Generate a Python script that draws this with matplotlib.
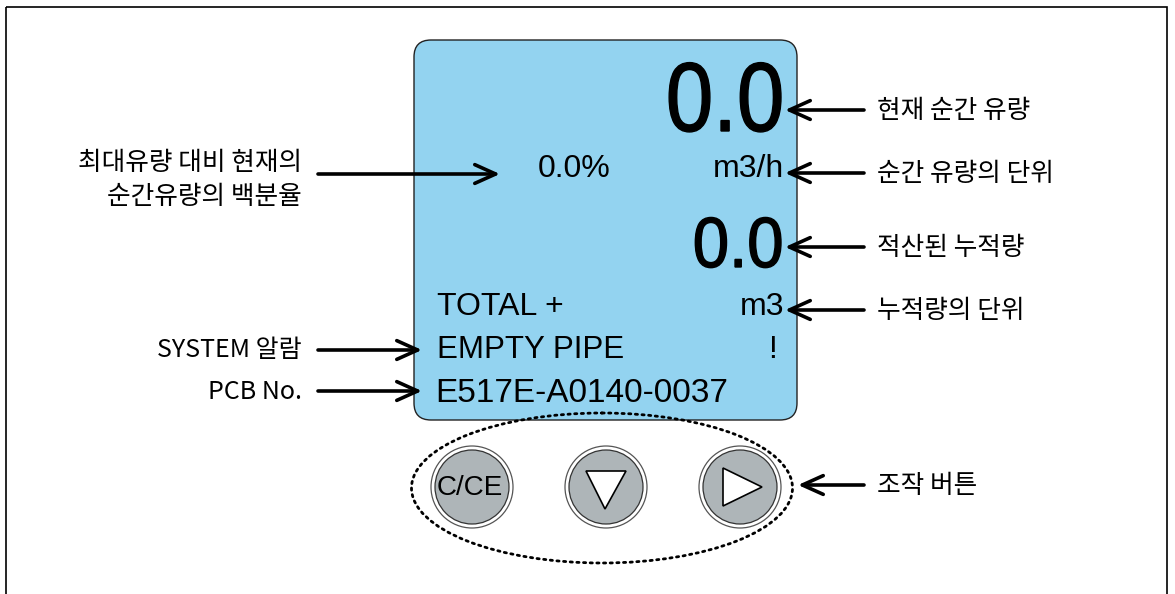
import matplotlib
matplotlib.use('Agg')
import matplotlib.pyplot as plt
from matplotlib.patches import FancyBboxPatch, Circle, Ellipse, Polygon, Rectangle, PathPatch
from matplotlib.textpath import TextPath
from matplotlib.font_manager import FontProperties
from matplotlib.transforms import Affine2D

plt.rcParams['font.family'] = ['Noto Sans CJK KR', 'DejaVu Sans']

# --- data: texts shown on the display and callout labels ---
flow_now = "0.0"
flow_unit = "m3/h"
flow_pct = "0.0%"
total_val = "0.0"
total_mode = "TOTAL +"
total_unit = "m3"
alarm_msg = "EMPTY PIPE"
alarm_flag = "!"
pcb_no = "E517E-A0140-0037"
button_names = ["C/CE", "down", "right"]

right_labels = ["현재 순간 유량", "순간 유량의 단위", "적산된 누적량", "누적량의 단위", "조작 버튼"]
left_labels = ["최대유량 대비 현재의\n순간유량의 백분율", "SYSTEM 알람", "PCB No."]

# --- layout (pixel coordinates) ---
right_y = [110, 173, 247, 310, 485]
right_tip = [785, 785, 785, 785, 798]
left_y = [174, 350, 391]
left_tip = [500, 422, 422]
btn_x = [472, 606, 740]
btn_y = 487

fig = plt.figure(figsize=(11.75, 5.94), dpi=100)
ax = fig.add_axes([0, 0, 1, 1])
ax.set_xlim(0, 1175)
ax.set_ylim(594, 0)
ax.axis('off')

# outer frame
ax.add_patch(Rectangle((6, 7), 1161, 600, fill=False, lw=1.2, ec='black'))

# LCD screen
ax.add_patch(FancyBboxPatch((414, 40), 383, 380, boxstyle="round,pad=0,rounding_size=17",
                            fc='#93D3F0', ec='#222222', lw=1.0))

lcd = 'Liberation Sans'


def lcd_digits(txt, right, base, px, sx):
    # big LCD digits are condensed; squeeze the glyph outline horizontally
    tp = TextPath((0, 0), txt, size=px, prop=FontProperties(family=lcd))
    ext = tp.get_extents()
    tr = Affine2D().translate(-ext.x1, 0).scale(sx, -1).translate(right, base)
    ax.add_patch(PathPatch(tr.transform_path(tp), fc='black', ec='black', lw=1.0))


lcd_digits(flow_now, 781, 131, 98, 0.87)
lcd_digits(total_val, 781, 267, 71, 0.92)

ax.text(538, 177, flow_pct, fontsize=23, family=lcd, ha='left', va='baseline')
ax.text(784, 177, flow_unit, fontsize=23, family=lcd, ha='right', va='baseline')
ax.text(437, 315, total_mode, fontsize=23, family=lcd, ha='left', va='baseline')
ax.text(784, 315, total_unit, fontsize=23, family=lcd, ha='right', va='baseline')
ax.text(437, 358, alarm_msg, fontsize=22.5, family=lcd, ha='left', va='baseline')
ax.text(777, 358, alarm_flag, fontsize=23, family=lcd, ha='right', va='baseline')
ax.text(435, 402, pcb_no, fontsize=24, family=lcd, ha='left', va='baseline')

# dotted ring around the buttons
ax.add_patch(Ellipse((602, 488), 381, 150, fill=False, ls=(0, (0.8, 1.6)), lw=2.0,
                     ec='black', capstyle='round'))

# buttons
for name, bx in zip(button_names, btn_x):
    ax.add_patch(Circle((bx, btn_y), 41, fc='white', ec='#555555', lw=0.9))
    ax.add_patch(Circle((bx, btn_y), 37, fc='#AEB5B8', ec='#333333', lw=0.9))
    if name == "down":
        ax.add_patch(Polygon([(bx - 20, btn_y - 16), (bx + 20, btn_y - 16), (bx - 1, btn_y + 22)],
                             closed=True, fc='white', ec='black', lw=1.2))
    elif name == "right":
        ax.add_patch(Polygon([(bx - 17, btn_y - 19), (bx - 17, btn_y + 19), (bx + 22, btn_y)],
                             closed=True, fc='white', ec='black', lw=1.2))
    else:
        ax.text(bx - 2, btn_y + 1, name, fontsize=20, family='Liberation Sans',
                ha='center', va='center')

arrow = dict(arrowstyle='->,head_length=1.0,head_width=0.45', lw=2.6, color='black',
             shrinkA=0, shrinkB=0, mutation_scale=15)

# right-side callouts
for txt, y, tip in zip(right_labels, right_y, right_tip):
    ax.annotate('', xy=(tip, y), xytext=(864, y), arrowprops=arrow)
    ax.text(877, y + 1, txt, fontsize=18.5, ha='left', va='center')

# left-side callouts
for txt, y, tip in zip(left_labels, left_y, left_tip):
    ax.annotate('', xy=(tip, y), xytext=(318, y), arrowprops=arrow)
ax.text(302, 180, left_labels[0], fontsize=18.5, ha='right', va='center',
        multialignment='right', linespacing=1.45)
ax.text(302, 350, left_labels[1], fontsize=18, ha='right', va='center')
ax.text(302, 392, left_labels[2], fontsize=18, ha='right', va='center')

fig.savefig('out.png', dpi=100)
